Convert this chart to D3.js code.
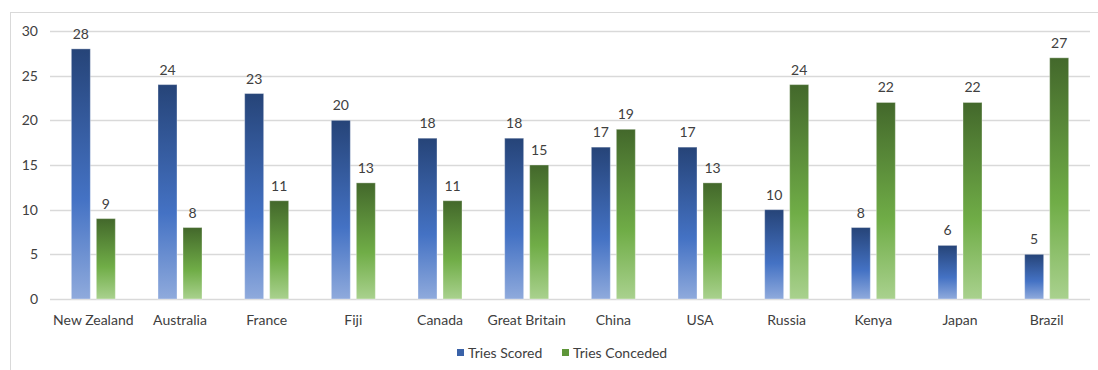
<!DOCTYPE html>
<html><head><meta charset="utf-8">
<script src="https://cdn.jsdelivr.net/npm/d3@7"></script>
<style>body{margin:0;background:#fff;} text{font-family:Lato,"Liberation Sans",sans-serif;}</style>
</head><body>
<svg id="c" width="1098" height="370"></svg>
<script>
const categories = ["New Zealand","Australia","France","Fiji","Canada","Great Britain","China","USA","Russia","Kenya","Japan","Brazil"];
const triesScored = [28,24,23,20,18,18,17,17,10,8,6,5];
const triesConceded = [9,8,11,13,11,15,19,13,24,22,22,27];
const yTicks = [0,5,10,15,20,25,30];
const seriesNames = ["Tries Scored","Tries Conceded"];

const svg = d3.select("#c");
const defs = svg.append("defs");
function grad(id, stops){
  const g = defs.append("linearGradient").attr("id",id).attr("x1",0).attr("y1",0).attr("x2",0).attr("y2",1);
  stops.forEach(([o,c])=>g.append("stop").attr("offset",o).attr("stop-color",c));
}
grad("gBlue",[[0,"#264478"],[0.6,"#4472C4"],[1,"#8FAADC"]]);
grad("gGreen",[[0,"#43682B"],[0.6,"#70AD47"],[1,"#A9D18E"]]);
const fills = ["url(#gBlue)","url(#gGreen)"];
const legendCol = ["#3A62A8","#5E9639"];

svg.append("rect").attr("x",10.5).attr("y",12.5).attr("width",1100).attr("height",400)
  .attr("fill","none").attr("stroke","#d9d9d9");

const x0 = 50, x1 = 1090, yTop = 31, yBot = 299;
const x = d3.scaleBand().domain(categories).range([x0,x1]).paddingInner(0).paddingOuter(0);
const y = d3.scaleLinear().domain([0,30]).range([yBot,yTop]);

const gGrid = svg.append("g");
yTicks.forEach(t=>{
  gGrid.append("line").attr("x1",x0).attr("x2",x1).attr("y1",Math.round(y(t))+0.5).attr("y2",Math.round(y(t))+0.5)
    .attr("stroke","#d9d9d9").attr("stroke-width",1.3);
  svg.append("text").attr("x",38).attr("y",y(t)+5).attr("text-anchor","end")
    .attr("font-size",14).attr("fill","#404040").text(t);
});

const barW = 19, gap = 6;
categories.forEach((c,i)=>{
  const cx = x(c) + x.bandwidth()/2;
  [triesScored[i], triesConceded[i]].forEach((v,s)=>{
    const bx = s===0 ? cx - gap/2 - barW : cx + gap/2;
    svg.append("rect").attr("x",bx).attr("y",y(v)).attr("width",barW).attr("height",y(0)-y(v))
      .attr("fill",fills[s]).attr("stroke","rgba(255,255,255,0.35)").attr("stroke-width",1);
    svg.append("text").attr("x",bx+barW/2).attr("y",y(v)-10).attr("text-anchor","middle")
      .attr("font-size",14).attr("fill","#404040").text(v);
  });
  svg.append("text").attr("x",cx).attr("y",325).attr("text-anchor","middle")
    .attr("font-size",14).attr("fill","#404040").text(c);
});

// legend
const lg = [[457,seriesNames[0]],[562,seriesNames[1]]];
lg.forEach(([lx,name],i)=>{
  svg.append("rect").attr("x",lx).attr("y",349).attr("width",7).attr("height",7).attr("fill",legendCol[i]);
  svg.append("text").attr("x",lx+11).attr("y",357.5).attr("font-size",14).attr("fill","#404040").text(name);
});
</script>
</body></html>
